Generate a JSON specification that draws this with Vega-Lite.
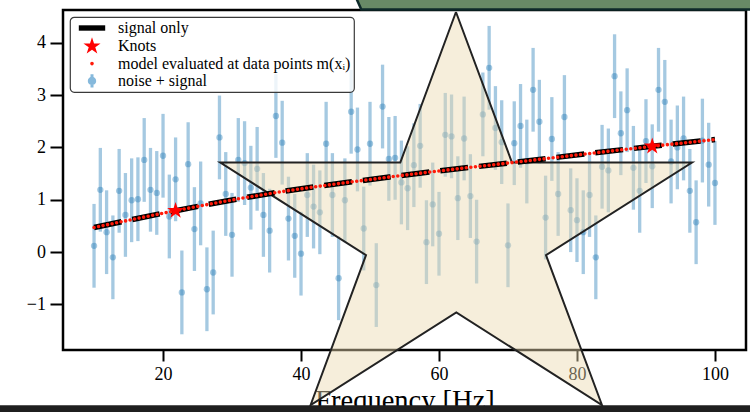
{
  "$schema": "https://vega.github.io/schema/vega-lite/v6.json",
  "width": 683,
  "height": 340,
  "autosize": {"type": "none"},
  "padding": {"left": 63, "top": 10, "right": 4, "bottom": 62},
  "background": "white",
  "config": {
    "view": {"stroke": "black", "strokeWidth": 2.5},
    "font": "Liberation Serif",
    "axis": {
      "domain": false,
      "grid": false,
      "tickColor": "black",
      "tickWidth": 2,
      "labelColor": "black",
      "labelFont": "Liberation Serif",
      "labelFontSize": 18,
      "titleFont": "Liberation Serif",
      "titleColor": "black",
      "titleFontWeight": "normal"
    },
    "legend": {
      "orient": "top-left",
      "offset": 7,
      "padding": 3,
      "fillColor": "rgba(255,255,255,0.8)",
      "strokeColor": "#3a3a3a",
      "strokeWidth": 1.2,
      "cornerRadius": 4,
      "labelFont": "Liberation Serif",
      "labelFontSize": 16,
      "labelColor": "black",
      "labelLimit": 400,
      "labelOffset": 18,
      "symbolOffset": 11,
      "symbolSize": 144,
      "symbolStrokeWidth": 0,
      "rowPadding": 1.3
    }
  },
  "datasets": {
    "obs": [
      {"x": 10.00, "y": 0.12, "err": 0.8}, {"x": 10.91, "y": 1.19, "err": 0.8}, {"x": 11.82, "y": 0.38, "err": 0.8}, {"x": 12.73, "y": -0.10, "err": 0.8}, {"x": 13.64, "y": 1.17, "err": 0.8},
      {"x": 14.55, "y": 0.71, "err": 0.8}, {"x": 15.45, "y": 0.99, "err": 0.8}, {"x": 16.36, "y": 1.01, "err": 0.8}, {"x": 17.27, "y": 1.76, "err": 0.8}, {"x": 18.18, "y": 1.19, "err": 0.8},
      {"x": 19.09, "y": 1.13, "err": 0.8}, {"x": 20.00, "y": 1.84, "err": 0.8}, {"x": 20.91, "y": 0.68, "err": 0.8}, {"x": 21.82, "y": 1.39, "err": 0.8}, {"x": 22.73, "y": -0.77, "err": 0.8},
      {"x": 23.64, "y": 1.68, "err": 0.8}, {"x": 24.55, "y": 0.44, "err": 0.8}, {"x": 25.45, "y": 0.93, "err": 0.8}, {"x": 26.36, "y": -0.71, "err": 0.8}, {"x": 27.27, "y": -0.39, "err": 0.8},
      {"x": 28.18, "y": 2.19, "err": 0.8}, {"x": 29.09, "y": 1.11, "err": 0.8}, {"x": 30.00, "y": 0.33, "err": 0.8}, {"x": 30.91, "y": 1.76, "err": 0.8}, {"x": 31.82, "y": 1.70, "err": 0.8},
      {"x": 32.73, "y": 1.23, "err": 0.8}, {"x": 33.64, "y": 1.59, "err": 0.8}, {"x": 34.55, "y": 0.71, "err": 0.8}, {"x": 35.45, "y": 0.41, "err": 0.8}, {"x": 36.36, "y": 2.60, "err": 0.8},
      {"x": 37.27, "y": 2.09, "err": 0.8}, {"x": 38.18, "y": 0.64, "err": 0.8}, {"x": 39.09, "y": 0.31, "err": 0.8}, {"x": 40.00, "y": -0.03, "err": 0.8}, {"x": 40.91, "y": 1.09, "err": 0.8},
      {"x": 41.82, "y": 0.87, "err": 0.8}, {"x": 42.73, "y": 0.76, "err": 0.8}, {"x": 43.64, "y": 2.07, "err": 0.8}, {"x": 44.55, "y": 1.09, "err": 0.8}, {"x": 45.45, "y": -0.50, "err": 0.8},
      {"x": 46.36, "y": 0.99, "err": 0.8}, {"x": 47.27, "y": 2.68, "err": 0.8}, {"x": 48.18, "y": 1.96, "err": 0.8}, {"x": 49.09, "y": 0.45, "err": 0.8}, {"x": 50.00, "y": 2.07, "err": 0.8},
      {"x": 50.91, "y": -0.63, "err": 0.8}, {"x": 51.82, "y": 2.78, "err": 0.8}, {"x": 52.73, "y": 1.78, "err": 0.8}, {"x": 53.64, "y": 1.80, "err": 0.8}, {"x": 54.55, "y": 1.33, "err": 0.8},
      {"x": 55.45, "y": 1.22, "err": 0.8}, {"x": 56.36, "y": 1.66, "err": 0.8}, {"x": 57.27, "y": 2.03, "err": 0.8}, {"x": 58.18, "y": 0.19, "err": 0.8}, {"x": 59.09, "y": 0.91, "err": 0.8},
      {"x": 60.00, "y": 0.35, "err": 0.8}, {"x": 60.91, "y": 2.24, "err": 0.8}, {"x": 61.82, "y": 2.21, "err": 0.8}, {"x": 62.73, "y": 1.03, "err": 0.8}, {"x": 63.64, "y": 2.17, "err": 0.8},
      {"x": 64.55, "y": 1.07, "err": 0.8}, {"x": 65.45, "y": 0.20, "err": 0.8}, {"x": 66.36, "y": 2.63, "err": 0.8}, {"x": 67.27, "y": 3.52, "err": 0.8}, {"x": 68.18, "y": 2.37, "err": 0.8},
      {"x": 69.09, "y": 2.10, "err": 0.8}, {"x": 70.00, "y": 0.13, "err": 0.8}, {"x": 70.91, "y": 2.08, "err": 0.8}, {"x": 71.82, "y": 2.41, "err": 0.8}, {"x": 72.73, "y": 1.73, "err": 0.8},
      {"x": 73.64, "y": 3.10, "err": 0.8}, {"x": 74.55, "y": 2.49, "err": 0.8}, {"x": 75.45, "y": 0.66, "err": 0.8}, {"x": 76.36, "y": 2.16, "err": 0.8}, {"x": 77.27, "y": 1.11, "err": 0.8},
      {"x": 78.18, "y": 2.58, "err": 0.8}, {"x": 79.09, "y": 0.80, "err": 0.8}, {"x": 80.00, "y": 0.61, "err": 0.8}, {"x": 80.91, "y": 0.38, "err": 0.8}, {"x": 81.82, "y": 1.09, "err": 0.8},
      {"x": 82.73, "y": -0.10, "err": 0.8}, {"x": 83.64, "y": 1.63, "err": 0.8}, {"x": 84.55, "y": 1.56, "err": 0.8}, {"x": 85.45, "y": 3.36, "err": 0.8}, {"x": 86.36, "y": 2.27, "err": 0.8},
      {"x": 87.27, "y": 2.71, "err": 0.8}, {"x": 88.18, "y": 1.61, "err": 0.8}, {"x": 89.09, "y": 1.17, "err": 0.8}, {"x": 90.00, "y": 2.12, "err": 0.8}, {"x": 90.91, "y": 1.64, "err": 0.8},
      {"x": 91.82, "y": 3.10, "err": 0.8}, {"x": 92.73, "y": 2.87, "err": 0.8}, {"x": 93.64, "y": 1.73, "err": 0.8}, {"x": 94.55, "y": 2.00, "err": 0.8}, {"x": 95.45, "y": 2.17, "err": 0.8},
      {"x": 96.36, "y": 1.17, "err": 0.8}, {"x": 97.27, "y": 0.57, "err": 0.8}, {"x": 98.18, "y": 2.13, "err": 0.8}, {"x": 99.09, "y": 1.67, "err": 0.8}, {"x": 100.00, "y": 1.32, "err": 0.8}
    ],
    "signal": [
      {"x": 10.00, "y": 0.47},
      {"x": 21.82, "y": 0.79},
      {"x": 31.90, "y": 1.04},
      {"x": 54.40, "y": 1.46},
      {"x": 70.60, "y": 1.71},
      {"x": 90.91, "y": 2.02},
      {"x": 100.00, "y": 2.15}
    ],
    "knots": [
      {"x": 21.82, "y": 0.79, "series": "Knots"},
      {"x": 90.91, "y": 2.02, "series": "Knots"}
    ],
    "star": [
      {"k": 0, "x": 62.46, "y": 4.586},
      {"k": 1, "x": 70.58, "y": 1.710},
      {"k": 2, "x": 96.67, "y": 1.710},
      {"k": 3, "x": 75.51, "y": -0.057},
      {"k": 4, "x": 83.62, "y": -2.920},
      {"k": 5, "x": 62.51, "y": -1.153},
      {"k": 6, "x": 41.39, "y": -2.920},
      {"k": 7, "x": 49.42, "y": -0.057},
      {"k": 8, "x": 28.30, "y": 1.710},
      {"k": 9, "x": 54.39, "y": 1.710},
      {"k": 10, "x": 62.46, "y": 4.586}
    ],
    "banner": [
      {"k": 0, "x": 47.93, "y": 4.872},
      {"k": 1, "x": 48.74, "y": 4.634},
      {"k": 2, "x": 105.30, "y": 4.634},
      {"k": 3, "x": 105.30, "y": 4.872},
      {"k": 4, "x": 47.93, "y": 4.872}
    ],
    "footer": [
      {"x": -4.3, "x2": 105.9, "y": -2.924, "y2": -3.3}
    ]
  },
  "encoding": {
    "x": {
      "field": "x",
      "type": "quantitative",
      "scale": {"domain": [5.5, 104.5], "nice": false, "zero": false},
      "axis": {
        "values": [20, 40, 60, 80, 100],
        "title": "Frequency [Hz]",
        "titleFontSize": 28.5,
        "titleBaseline": "alphabetic",
        "titleY": 59,
        "tickSize": 11,
        "labelPadding": 4.5
      }
    },
    "y": {
      "field": "y",
      "type": "quantitative",
      "scale": {"domain": [-1.87, 4.624], "nice": false, "zero": false},
      "axis": {
        "values": [-1, 0, 1, 2, 3, 4],
        "title": null,
        "tickSize": 13,
        "labelPadding": 4.5
      }
    }
  },
  "layer": [
    {
      "data": {"name": "obs"},
      "mark": {"type": "errorbar", "color": "#1f77b4", "opacity": 0.4, "thickness": 3.3},
      "encoding": {"yError": {"field": "err"}}
    },
    {
      "data": {"name": "obs"},
      "mark": {"type": "point", "filled": true, "shape": "circle", "size": 40, "color": "#1f77b4", "opacity": 0.4}
    },
    {
      "data": {"name": "star"},
      "mark": {"type": "line", "clip": false, "fill": "#ecd9b0", "fillOpacity": 0.45, "stroke": "#222222", "strokeWidth": 2, "strokeJoin": "miter"},
      "encoding": {"order": {"field": "k", "type": "quantitative"}}
    },
    {
      "data": {"name": "signal"},
      "mark": {"type": "line", "color": "black", "strokeWidth": 5.5, "strokeDash": [28, 11], "interpolate": "monotone"}
    },
    {
      "data": {"name": "signal"},
      "mark": {"type": "line", "color": "#ff1a0a", "strokeWidth": 3.6, "strokeDash": [0, 4.6], "strokeCap": "round", "interpolate": "monotone"}
    },
    {
      "data": {"name": "knots"},
      "mark": {"type": "point", "filled": true, "size": 138, "opacity": 1},
      "encoding": {
        "color": {
          "field": "series",
          "type": "nominal",
          "scale": {
            "domain": ["signal only", "Knots", "model evaluated at data points m(xᵢ)", "noise + signal"],
            "range": ["#000000", "#ff0000", "#ff1a0a", "#86b9dc"]
          },
          "legend": {"title": null}
        },
        "shape": {
          "field": "series",
          "type": "nominal",
          "scale": {
            "domain": ["signal only", "Knots", "model evaluated at data points m(xᵢ)", "noise + signal"],
            "range": [
              "M-2.2,-0.45H2.2V0.45H-2.2Z",
              "M0,-1.5L0.337,-0.464L1.427,-0.464L0.545,0.177L0.882,1.214L0,0.573L-0.882,1.214L-0.545,0.177L-1.427,-0.464L-0.337,-0.464Z",
              "M0.3,0A0.3,0.3,0,1,1,-0.3,0A0.3,0.3,0,1,1,0.3,0Z",
              "M0.7,0A0.7,0.7,0,1,1,-0.7,0A0.7,0.7,0,1,1,0.7,0ZM-0.25,-1.1H0.25V1.1H-0.25Z"
            ]
          },
          "legend": {"title": null}
        }
      }
    },
    {
      "data": {"name": "banner"},
      "mark": {"type": "line", "clip": false, "fill": "#688a66", "stroke": "#0e2a2a", "strokeWidth": 2.5, "strokeJoin": "miter"},
      "encoding": {"order": {"field": "k", "type": "quantitative"}}
    },
    {
      "data": {"name": "footer"},
      "mark": {"type": "rect", "clip": false, "color": "#1f1f1f"},
      "encoding": {"x2": {"field": "x2"}, "y2": {"field": "y2"}}
    }
  ]
}
